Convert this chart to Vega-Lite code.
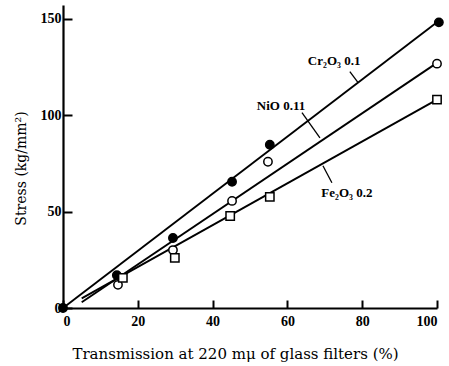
{
  "$schema": "https://vega.github.io/schema/vega-lite/v6.json",
  "width": 374,
  "height": 303,
  "autosize": {"type": "none"},
  "padding": {"left": 63, "top": 5, "right": 12, "bottom": 58},
  "background": "white",
  "config": {
    "view": {"stroke": null},
    "axis": {"grid": false, "domainColor": "black", "domainWidth": 2.2, "tickColor": "black", "tickWidth": 2, "labelColor": "black", "titleColor": "black", "labelFont": "Liberation Serif", "titleFont": "DejaVu Serif", "labelFontWeight": "bold", "labelFontSize": 14, "titleFontSize": 14, "titleFontWeight": "normal"}
  },
  "datasets": {
    "lines": [
      {"series": "Cr", "x": 0, "y": 0},
      {"series": "Cr", "x": 100, "y": 148},
      {"series": "NiO", "x": 5, "y": 3},
      {"series": "NiO", "x": 100, "y": 127},
      {"series": "Fe", "x": 5, "y": 5},
      {"series": "Fe", "x": 100, "y": 108}
    ],
    "points": [
      {"series": "Cr", "x": 0, "y": 0},
      {"series": "Cr", "x": 14.4, "y": 17},
      {"series": "Cr", "x": 29.4, "y": 36.3},
      {"series": "Cr", "x": 45.2, "y": 65.4},
      {"series": "Cr", "x": 55.3, "y": 84.6},
      {"series": "Cr", "x": 100.5, "y": 148},
      {"series": "NiO", "x": 14.7, "y": 12},
      {"series": "NiO", "x": 29.4, "y": 30},
      {"series": "NiO", "x": 45.2, "y": 55.5},
      {"series": "NiO", "x": 54.8, "y": 75.8},
      {"series": "NiO", "x": 100, "y": 126.6},
      {"series": "Fe", "x": 16, "y": 15.6},
      {"series": "Fe", "x": 29.9, "y": 26},
      {"series": "Fe", "x": 44.7, "y": 47.7},
      {"series": "Fe", "x": 55.3, "y": 57.6},
      {"series": "Fe", "x": 100, "y": 108}
    ],
    "leaders": [
      {"x": 76.7, "y": 122.5, "x2": 78.9, "y2": 116.8},
      {"x": 63.9, "y": 101.2, "x2": 68.7, "y2": 88.2},
      {"x": 69.5, "y": 73.7, "x2": 71.9, "y2": 64.9}
    ],
    "labels": [
      {"x": 72.5, "y": 128, "text": "Cr₂O₃ 0.1"},
      {"x": 58.3, "y": 104.8, "text": "NiO  0.11"},
      {"x": 75.9, "y": 59.7, "text": "Fe₂O₃  0.2"}
    ]
  },
  "encoding": {
    "x": {"field": "x", "type": "quantitative", "scale": {"domain": [0, 100], "nice": false}, "axis": {"values": [0, 20, 40, 60, 80, 100], "tickSize": -8, "labelPadding": 14, "title": "Transmission at 220 mμ of glass filters (%)", "titlePadding": 18, "titleFontSize": 15, "titleX": 172}},
    "y": {"field": "y", "type": "quantitative", "scale": {"domain": [0, 157], "nice": false}, "axis": {"values": [0, 50, 100, 150], "tickSize": -9, "labelPadding": 11, "title": "Stress (kg/mm²)", "titlePadding": 16, "titleY": 163, "titleX": -42, "titleAngle": -90, "titleAlign": "center", "titleBaseline": "middle"}}
  },
  "layer": [
    {
      "data": {"name": "lines"},
      "mark": {"type": "line", "color": "black", "strokeWidth": 1.9},
      "encoding": {"detail": {"field": "series"}}
    },
    {
      "data": {"name": "leaders"},
      "mark": {"type": "rule", "color": "black", "strokeWidth": 1.3},
      "encoding": {"x2": {"field": "x2"}, "y2": {"field": "y2"}}
    },
    {
      "data": {"name": "points"},
      "mark": {"type": "point", "strokeWidth": 1.5, "stroke": "black", "opacity": 1},
      "encoding": {
        "shape": {"field": "series", "type": "nominal", "scale": {"domain": ["Cr", "NiO", "Fe"], "range": ["circle", "circle", "square"]}, "legend": null},
        "fill": {"field": "series", "type": "nominal", "scale": {"domain": ["Cr", "NiO", "Fe"], "range": ["black", "white", "white"]}, "legend": null},
        "size": {"value": 70}
      }
    },
    {
      "data": {"name": "labels"},
      "mark": {"type": "text", "font": "Liberation Serif", "fontSize": 13, "fontWeight": "bold", "color": "black"},
      "encoding": {"text": {"field": "text"}}
    }
  ]
}
